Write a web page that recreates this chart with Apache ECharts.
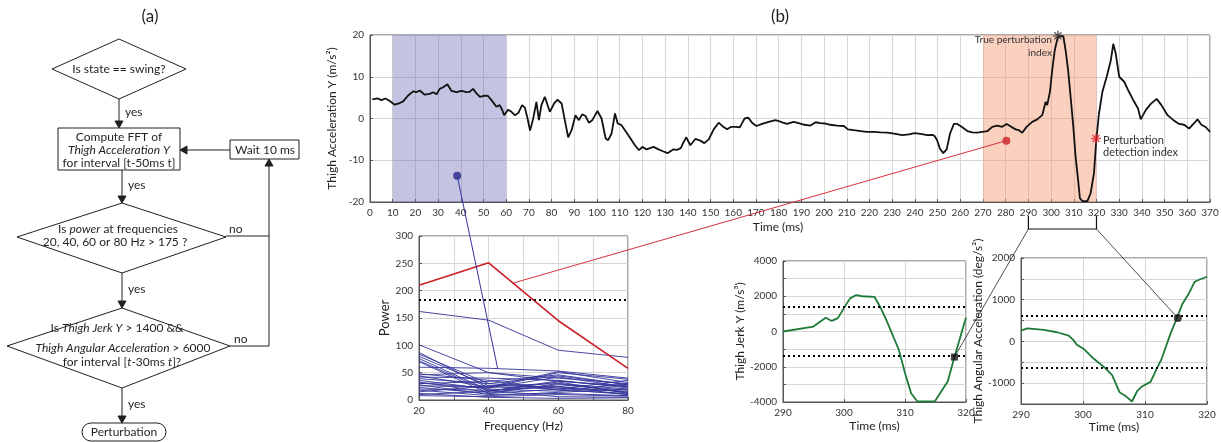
<!DOCTYPE html>
<html>
<head>
<meta charset="utf-8">
<script src="https://cdn.jsdelivr.net/npm/echarts/dist/echarts.min.js"></script>
<style>
  html, body { margin: 0; padding: 0; background: #ffffff; }
  #chart { width: 1222px; height: 442px; }
</style>
</head>
<body>
<div id="chart"></div>
<script>
// ---- Thigh acceleration Y during swing (time in ms, value in m/s²) ----
const accelTime = [1,3.5,5,6.8,8.7,10.9,13.1,14.6,16.8,19,20.4,21.9,24.1,26.3,27.8,29.3,30.7,32.2,34.1,35.9,38.1,40.3,42.5,43.9,45.4,46.9,48.4,50.6,52,53.5,55.7,57.1,58.2,59.1,60.8,62.3,63.8,65.3,67,68.2,69.4,70.5,71.9,73.3,74.4,75.5,77,79.2,81.1,82.6,84.4,85.8,87.3,88.8,90.5,92,93.5,94.9,96.4,97.9,100.2,102,103.8,104.9,106.4,107.9,109.1,110.8,113.8,116.7,118.5,120,121.8,124.9,127.1,129.3,131.1,133.5,135.2,136.9,137.9,139.3,141.1,143.3,145.5,147.3,149.2,151.4,153.6,155.6,157.3,159.1,161,162.9,163.9,165,166.6,168.3,170.2,172.7,175.6,178.6,180,181.9,183.7,186.6,188.8,191.4,194,196.3,198.4,200.6,202.8,205.8,208.7,210.5,213.1,216.1,219,222,224.9,227.9,230.8,234.5,237.4,239.9,242.5,245.5,247.7,248.7,249.8,251,252.5,254,255.5,257.2,258.7,260.9,263.1,265.3,267.5,269.7,272,274.1,276.3,278.5,280.4,282.5,284.4,285.8,287.3,289.2,291.7,293.9,296.1,297.6,298.3,299.5,300.5,301.6,302.8,303.5,305.4,306.4,307.5,308.6,309.8,310.8,311.9,312.7,313.8,316,317.4,318.9,319.9,321.1,322.6,324.5,326.3,327.4,328.5,330,332.2,334.3,336.6,338.3,339.5,341.7,343.9,346.5,348.6,351.3,353.9,356.4,358.6,360.8,363,364.5,366.2,368.2,370];
const accelValue = [4.6,4.8,4.4,4.8,4.2,3.3,3.7,4.1,5.5,6.5,6.3,6.7,5.7,5.9,6.3,5.8,7.1,7.5,8.2,6.6,6.3,6.6,6.3,6.4,7.1,6.0,5.2,5.5,5.4,4.4,2.8,3.2,2.1,0.8,2.1,1.6,0.8,1.3,3.2,2.6,0,-2.9,0,4.0,-0.4,3.2,5.2,1.6,3.6,4.5,3.6,-0.4,-4.5,-2.8,0.8,-0.4,1.0,0.6,-1.0,-0.4,1.8,0,-4.8,-5.2,-3.6,1.2,-1.2,-1.6,-4.0,-6.4,-7.6,-6.8,-7.4,-6.8,-7.4,-7.9,-8.3,-7.4,-7.5,-7.1,-5.9,-4.5,-6.4,-4.9,-5.3,-5.9,-5.0,-2.6,-1.0,-2.0,-2.6,-2.0,-2.0,-2.1,-1.1,0,0.2,-1.0,-1.8,-1.3,-0.8,-0.4,-0.6,-1.0,-1.3,-0.8,-1.1,-1.5,-1.7,-0.9,-1.1,-1.2,-1.5,-1.7,-1.8,-2.6,-2.8,-3.0,-3.2,-3.2,-3.3,-3.4,-3.6,-4.0,-3.8,-3.5,-3.7,-4.0,-3.9,-4.2,-5.2,-7.2,-8.3,-7.4,-3.6,-1.3,-1.3,-2.1,-3.0,-3.3,-3.4,-3.2,-3.0,-2.0,-1.7,-2.0,-1.3,-2.0,-2.6,-2.8,-3.4,-2.0,-0.8,-0.2,0.8,4.0,3.2,6.4,11.6,16.3,19.2,19.7,19.7,16.3,11.6,5.2,-2.0,-9.2,-14.7,-19.1,-19.8,-19.8,-17.9,-13.1,-5.2,1.2,6.4,10,13.9,17.9,15.5,10,8.8,6.4,4.0,2.4,-0.2,2.0,3.5,4.7,3.2,0.8,-0.4,-1.3,-1.5,-2.4,-1.1,-0.2,-1.5,-2.1,-3.2];

// FFT windows highlighted on the acceleration trace (ms)
const quietWindow = [10, 60];
const perturbWindow = [270, 320];

// Annotated points on the acceleration trace
const quietWindowEnd = [38.4, -13.7];
const perturbWindowEnd = [280.3, -5.3];
const truePerturbation = [303, 19.8];
const detectionIndex = [319.8, -4.8];

// ---- Power spectra (Power vs Frequency in Hz) ----
const powerFreq = [20, 40, 60, 80];
const powerPerturbed = [210, 251, 145, 58];
const powerQuiet = [
  [162, 146, 91, 78], [101, 50, 40, 30], [87, 22, 50, 38], [84, 30, 44, 28],
  [80, 26, 30, 20], [76, 18, 25, 14], [72, 16, 35, 24], [70, 12, 20, 10],
  [60, 58, 53, 40], [46, 50, 34, 26], [44, 24, 52, 32], [42, 40, 36, 22],
  [39, 30, 22, 16], [36, 20, 16, 30], [33, 14, 28, 18], [31, 22, 42, 24],
  [28, 10, 12, 8], [26, 24, 20, 36], [23, 12, 30, 14], [20, 18, 6, 5],
  [18, 8, 14, 20], [15, 26, 24, 10], [12, 5, 3, 4], [10, 16, 33, 12],
  [8, 6, 10, 7], [48, 36, 18, 12], [30, 34, 46, 28]
];
const powerThreshold = 183;
const quietLinkPoint = [42.6, 57];
const perturbLinkPoint = [47.1, 214];

// ---- Thigh jerk Y (m/s³) over 290–320 ms ----
const jerkTime = [290,295,296,297,298,299,300,301,302,303,305,306,307,308.1,309,310,311,312,314.9,317,318.1,320];
const jerkValue = [0,280,540,780,600,760,1340,1880,2070,2000,1960,1360,600,-300,-1050,-2360,-3500,-3960,-3960,-2840,-1460,800];
const jerkThreshold = 1400;
const jerkMark = [318.1, -1450];

// ---- Thigh angular acceleration (deg/s²) over 290–320 ms ----
const angTime = [290,291,293.7,295.8,297.7,298.5,299,300.2,301.7,303.6,304.7,305.9,306.8,307.9,308.7,309.5,310.9,311.9,312.7,314.1,315.2,316,317,318,318.9,320];
const angValue = [260,315,275,220,140,25,-80,-190,-410,-640,-810,-1220,-1300,-1440,-1200,-1080,-970,-650,-410,180,580,890,1130,1430,1490,1550];
const angThreshold = 625;
const angMark = [315.3, 560];

// ---------------------------------------------------------------
const FONT = 'Lato, "Open Sans", sans-serif';
const INK = '#231f20';
const zip = (xs, ys) => xs.map((x, i) => [x, ys[i]]);

function valueAxis(gridIndex, extra) {
  return Object.assign({
    type: 'value',
    gridIndex,
    axisLine: { show: true, onZero: false, lineStyle: { color: '#555', width: 1 } },
    axisTick: { show: true, inside: true, length: 3, lineStyle: { color: '#555' } },
    axisLabel: { fontSize: 10, color: '#333', fontFamily: FONT, margin: 6,
                 showMinLabel: true, showMaxLabel: true, hideOverlap: false },
    splitLine: { show: true, lineStyle: { color: '#d6d6d6', width: 1 } },
    nameLocation: 'middle',
    nameTextStyle: { fontSize: 12, color: '#222', fontFamily: FONT }
  }, extra);
}

// asterisk marker built from four thin bars
function asteriskPath() {
  const L = 5, T = 0.7;
  let d = '';
  [0, 45, 90, 135].forEach(a => {
    const r = a * Math.PI / 180, c = Math.cos(r), s = Math.sin(r);
    const px = -s * T, py = c * T;
    const pts = [[-L * c + px, -L * s + py], [L * c + px, L * s + py], [L * c - px, L * s - py], [-L * c - px, -L * s - py]];
    d += 'M' + pts.map(p => p[0].toFixed(2) + ',' + p[1].toFixed(2)).join('L') + 'Z';
  });
  return 'path://' + d;
}

const gridBox = { show: true, borderColor: '#555', borderWidth: 1, backgroundColor: 'transparent', containLabel: false, outerBoundsMode: 'none' };
const labelFmt = step => ({ fontSize: 10, color: '#333', fontFamily: FONT, margin: 6, hideOverlap: false,
                            showMinLabel: true, showMaxLabel: true,
                            formatter: v => (v % step === 0 ? String(v) : '') });

const series = [];

// acceleration bands (drawn underneath the trace)
series.push({
  type: 'line', xAxisIndex: 0, yAxisIndex: 0, z: 1,
  data: zip(accelTime, accelValue), showSymbol: false, silent: true,
  lineStyle: { opacity: 0 },
  markArea: {
    silent: true,
    data: [
      [{ xAxis: quietWindow[0], itemStyle: { color: 'rgba(100,100,180,0.38)' } }, { xAxis: quietWindow[1] }],
      [{ xAxis: perturbWindow[0], itemStyle: { color: 'rgba(243,150,110,0.45)' } }, { xAxis: perturbWindow[1] }]
    ]
  }
});
// acceleration trace
series.push({
  type: 'line', xAxisIndex: 0, yAxisIndex: 0, z: 3,
  data: zip(accelTime, accelValue), showSymbol: false, silent: true,
  lineStyle: { color: '#111', width: 1.8 }
});
// markers on the trace
series.push({
  type: 'scatter', xAxisIndex: 0, yAxisIndex: 0, z: 6, silent: true,
  data: [
    { value: quietWindowEnd, symbol: 'circle', symbolSize: 8, itemStyle: { color: '#25258a' } },
    { value: perturbWindowEnd, symbol: 'circle', symbolSize: 8, itemStyle: { color: '#cc1f2d' } },
    { value: truePerturbation, symbol: asteriskPath(), symbolSize: 10, itemStyle: { color: '#333' } },
    { value: detectionIndex, symbol: asteriskPath(), symbolSize: 10, itemStyle: { color: '#e8202a' } }
  ]
});

// power spectra of the quiet window
powerQuiet.forEach(vals => {
  series.push({
    type: 'line', xAxisIndex: 1, yAxisIndex: 1, z: 3, silent: true,
    data: zip(powerFreq, vals), showSymbol: false,
    lineStyle: { color: '#34349a', width: 1, opacity: 0.9 }
  });
});
// power spectrum of the perturbation window + threshold
series.push({
  type: 'line', xAxisIndex: 1, yAxisIndex: 1, z: 4, silent: true,
  data: zip(powerFreq, powerPerturbed), showSymbol: false,
  lineStyle: { color: '#cc1f26', width: 1.6 },
  markLine: {
    silent: true, symbol: 'none', label: { show: false },
    lineStyle: { color: '#000', type: [2, 3], width: 2 },
    data: [{ yAxis: powerThreshold }]
  }
});

// jerk
series.push({
  type: 'line', xAxisIndex: 2, yAxisIndex: 2, z: 3, silent: true,
  data: zip(jerkTime, jerkValue), showSymbol: false,
  lineStyle: { color: '#1f7a3a', width: 1.8 },
  markLine: {
    silent: true, symbol: 'none', label: { show: false },
    lineStyle: { color: '#000', type: [2, 3], width: 2 },
    data: [{ yAxis: jerkThreshold }, { yAxis: -jerkThreshold }]
  }
});
series.push({
  type: 'scatter', xAxisIndex: 2, yAxisIndex: 2, z: 6, silent: true,
  data: [jerkMark], symbol: 'rect', symbolSize: 7, itemStyle: { color: '#111' }
});

// angular acceleration
series.push({
  type: 'line', xAxisIndex: 3, yAxisIndex: 3, z: 3, silent: true,
  data: zip(angTime, angValue), showSymbol: false,
  lineStyle: { color: '#1f7a3a', width: 1.8 },
  markLine: {
    silent: true, symbol: 'none', label: { show: false },
    lineStyle: { color: '#000', type: [2, 3], width: 2 },
    data: [{ yAxis: angThreshold }, { yAxis: -angThreshold }]
  }
});
series.push({
  type: 'scatter', xAxisIndex: 3, yAxisIndex: 3, z: 6, silent: true,
  data: [angMark], symbol: 'circle', symbolSize: 8, itemStyle: { color: '#111' }
});

// ---------------- flowchart (a) ----------------
const FS = 12;
function text(x, y, str, opt) {
  return {
    type: 'text', x, y, z: 20, silent: true,
    style: Object.assign({
      text: str, fill: INK, fontSize: FS, fontFamily: FONT,
      align: 'center', textAlign: 'center', verticalAlign: 'middle', textVerticalAlign: 'middle',
      rich: { i: { fontStyle: 'italic', fontSize: FS, fontFamily: FONT, fill: INK } }
    }, opt || {})
  };
}
function seg(x1, y1, x2, y2, color, w) {
  return { type: 'line', z: 20, silent: true, shape: { x1, y1, x2, y2 }, style: { stroke: color || INK, lineWidth: w || 1 } };
}
function poly(points, fill, stroke) {
  return { type: 'polygon', z: 19, silent: true, shape: { points }, style: { fill: fill || '#fff', stroke: stroke || INK, lineWidth: 1 } };
}
function arrowDown(x, y1, y2) {
  return [seg(x, y1, x, y2 - 6), poly([[x - 4, y2 - 7], [x + 4, y2 - 7], [x, y2]], INK, INK)];
}
const left = { align: 'left', textAlign: 'left' };

const flow = [].concat(
  [text(150, 17, '(a)', { fontSize: 17 }), text(780, 17, '(b)', { fontSize: 17 })],
  // decision: swing state
  [poly([[52, 69], [119, 39], [186, 69], [119, 99]]), text(119, 69, 'Is state == swing?')],
  arrowDown(119, 99, 128), [text(125, 112, 'yes', left)],
  // FFT box
  [{ type: 'rect', z: 19, silent: true, shape: { x: 58, y: 128, width: 122, height: 42 }, style: { fill: '#fff', stroke: INK, lineWidth: 1 } },
   text(119, 137, 'Compute FFT of'),
   text(119, 150, '{i|Thigh Acceleration Y}'),
   text(119, 163, 'for interval [t-50ms t]')],
  arrowDown(122, 170, 203), [text(128, 185, 'yes', left)],
  // wait box and loop back
  [{ type: 'rect', z: 19, silent: true, shape: { x: 230, y: 140, width: 69, height: 19 }, style: { fill: '#fff', stroke: INK, lineWidth: 1 } },
   text(265, 150, 'Wait 10 ms'),
   seg(230, 150, 187, 150), poly([[187, 146], [187, 154], [180, 150]], INK, INK),
   seg(269, 346, 269, 166), poly([[265, 166], [273, 166], [269, 159]], INK, INK)],
  // decision: power
  [poly([[17, 237], [122, 203], [226, 237], [122, 273]]),
   text(118, 229, 'Is {i|power} at frequencies'),
   text(115, 242, '20, 40, 60 or 80 Hz > 175 ?'),
   text(229, 229, 'no', left),
   seg(226, 236, 269, 236)],
  arrowDown(122, 273, 308), [text(128, 289, 'yes', left)],
  // decision: jerk & angular acceleration
  [poly([[7, 346], [122, 308], [230, 346], [122, 388]]),
   text(117, 328, 'Is {i|Thigh Jerk Y} > 1400 &&'),
   text(123, 348, '{i|Thigh Angular Acceleration} > 6000'),
   text(122, 362, 'for interval [{i|t}-30ms {i|t}]?'),
   text(234, 339, 'no', left),
   seg(230, 346, 269, 346)],
  arrowDown(122, 388, 423), [text(128, 404, 'yes', left)],
  [{ type: 'rect', z: 19, silent: true, shape: { x: 82, y: 423, width: 84, height: 18, r: 9 }, style: { fill: '#fff', stroke: INK, lineWidth: 1 } },
   text(124, 432, 'Perturbation')]
);

const option = {
  backgroundColor: '#ffffff',
  animation: false,
  textStyle: { fontFamily: FONT },
  grid: [
    Object.assign({ left: 370, top: 35, width: 840, height: 167 }, gridBox),
    Object.assign({ left: 419, top: 236, width: 209, height: 164 }, gridBox),
    Object.assign({ left: 783, top: 261, width: 183, height: 141 }, gridBox),
    Object.assign({ left: 1021, top: 258, width: 186, height: 146 }, gridBox)
  ],
  xAxis: [
    valueAxis(0, { min: 0, max: 370, interval: 10, name: 'Time (ms)', nameGap: 19,
                   nameTextStyle: { fontSize: 12, color: '#222', fontFamily: FONT, padding: [0, 24, 0, 0] } }),
    valueAxis(1, { min: 20, max: 80, interval: 10, name: 'Frequency (Hz)', nameGap: 20, axisLabel: labelFmt(20) }),
    valueAxis(2, { min: 290, max: 320, interval: 10, name: 'Time (ms)', nameGap: 18 }),
    valueAxis(3, { min: 290, max: 320, interval: 10, name: 'Time (ms)', nameGap: 16 })
  ],
  yAxis: [
    valueAxis(0, { min: -20, max: 20, interval: 10, name: 'Thigh Acceleration Y (m/s²)', nameGap: 22 }),
    valueAxis(1, { min: 0, max: 300, interval: 50, name: 'Power', nameGap: 26,
                   nameTextStyle: { fontSize: 13, color: '#222', fontFamily: FONT } }),
    valueAxis(2, { min: -4000, max: 4000, interval: 1000, name: 'Thigh Jerk Y (m/s³)', nameGap: 31, axisLabel: labelFmt(2000) }),
    valueAxis(3, { min: -1500, max: 2000, interval: 500, name: 'Thigh Angular Acceleration (deg/s²)', nameGap: 21, axisLabel: labelFmt(1000) })
  ],
  series,
  graphic: flow
};

const chart = echarts.init(document.getElementById('chart'), null, { renderer: 'canvas' });
chart.setOption(option);

// ---------------- connectors between panels ----------------
const px = (g, p) => chart.convertToPixel({ gridIndex: g }, p);
const a0 = px(0, quietWindowEnd), a1 = px(1, quietLinkPoint);
const b0 = px(0, perturbWindowEnd), b1 = px(1, perturbLinkPoint);
const xL = px(0, [290, -20])[0], xR = px(0, [320, -20])[0], yAxisBottom = px(0, [290, -20])[1];
const yB = yAxisBottom + 27;
const jm = px(2, jerkMark), am = px(3, angMark);
const tp = px(0, truePerturbation), di = px(0, detectionIndex);

const links = [
  seg(a0[0], a0[1], a1[0], a1[1], '#34349a', 1),
  seg(b0[0], b0[1], b1[0], b1[1], '#d6303a', 1),
  { type: 'polyline', z: 20, silent: true, shape: { points: [[xL, yAxisBottom + 14], [xL, yB], [xR, yB], [xR, yAxisBottom + 14]] },
    style: { stroke: '#111', lineWidth: 1.2, fill: null } },
  seg(xL, yB, jm[0], jm[1], '#222', 0.8),
  seg(xR, yB, am[0], am[1], '#222', 0.8),
  // annotations beside the markers
  text(tp[0] - 6, tp[1] + 4, 'True perturbation', { align: 'right', textAlign: 'right', fontSize: 10, fill: '#333' }),
  text(tp[0] - 6, tp[1] + 17, 'index', { align: 'right', textAlign: 'right', fontSize: 10, fill: '#333' }),
  text(di[0] + 7, di[1] + 2, 'Perturbation', Object.assign({ fontSize: 11, fill: '#333' }, left)),
  text(di[0] + 7, di[1] + 14, 'detection index', Object.assign({ fontSize: 11, fill: '#333' }, left))
];

chart.setOption({ graphic: flow.concat(links) });
</script>
</body>
</html>
